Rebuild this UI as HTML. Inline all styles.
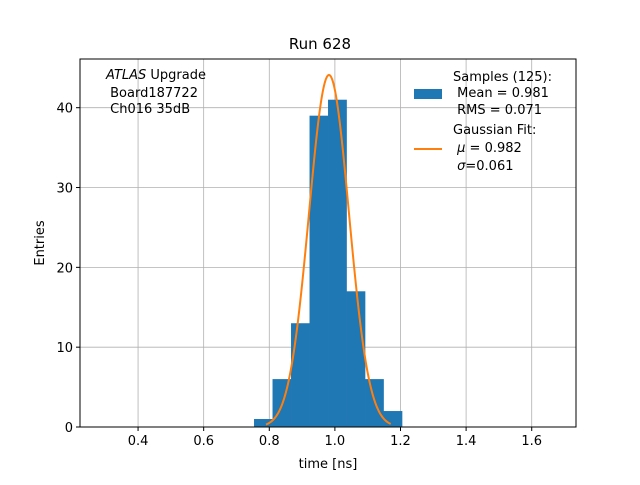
<!DOCTYPE html>
<html><head><meta charset="utf-8"><style>
body{margin:0;background:#fff;}
svg text{font-family:"DejaVu Sans","Liberation Sans",sans-serif;}
</style></head><body>
<svg id="c" width="640" height="480" xmlns="http://www.w3.org/2000/svg">
<rect width="640" height="480" fill="#fff"/>
<g id="grid"></g>
<g id="bars"></g>
<g id="fit"></g>
<rect x="80" y="59" width="496" height="368" fill="none" stroke="#000" stroke-width="1"/>
<g id="ticks" font-size="13"></g>
<text x="320" y="49" font-size="15" text-anchor="middle">Run 628</text>
<text x="328" y="468" font-size="13" text-anchor="middle">time [ns]</text>
<text x="44" y="243" font-size="13" text-anchor="middle" transform="rotate(-90 44 243)">Entries</text>
<g font-size="13">
<text x="106" y="79"><tspan font-style="italic">ATLAS</tspan> Upgrade</text>
<text x="106" y="97">&#160;Board187722</text>
<text x="106" y="113">&#160;Ch016 35dB</text>
</g>
<g font-size="13">
<rect x="414" y="89" width="28" height="10" fill="#1f77b4"/>
<text x="453" y="81">Samples (125):</text>
<text x="453" y="97">&#160;Mean = 0.981</text>
<text x="453" y="114">&#160;RMS = 0.071</text>
<line x1="414" y1="149" x2="442" y2="149" stroke="#ff7f0e" stroke-width="2"/>
<text x="453" y="134">Gaussian Fit:</text>
<text x="453" y="152">&#160;<tspan font-style="italic">μ</tspan> = 0.982</text>
<text x="453" y="170">&#160;<tspan font-style="italic">σ</tspan>=0.061</text>
</g>
</svg>
<script>
const binEdgesStart = 0.7535;
const binWidth = 0.0564;
const counts = [1, 6, 13, 39, 41, 17, 6, 2];
const xTicks = [0.4, 0.6, 0.8, 1.0, 1.2, 1.4, 1.6];
const xTickLabels = ["0.4", "0.6", "0.8", "1.0", "1.2", "1.4", "1.6"];
const yTicks = [0, 10, 20, 30, 40];
const fitMu = [0.982];
const fitSigma = [0.061];
const fitAmp = [44.1];
const fitRange = [0.79, 1.17];

const NS = "http://www.w3.org/2000/svg";
const X0 = 80, X1 = 576, Y0 = 427, Y1 = 59;
const xmin = 0.223, xmax = 1.735, ymin = 0, ymax = 46.1;
const sx = v => X0 + (v - xmin) / (xmax - xmin) * (X1 - X0);
const sy = v => Y0 - (v - ymin) / (ymax - ymin) * (Y0 - Y1);
function mk(tag, attrs, parent) {
  const e = document.createElementNS(NS, tag);
  for (const k in attrs) e.setAttribute(k, attrs[k]);
  parent.appendChild(e); return e;
}
const grid = document.getElementById('grid'), ticks = document.getElementById('ticks');
xTicks.forEach((t, i) => {
  const x = sx(t);
  const g = mk('line', {x1: x, x2: x, y1: Y1, y2: Y0, stroke: '#b0b0b0', 'stroke-width': 0.8}, grid);
  
  
  mk('line', {x1: x, x2: x, y1: Y0, y2: Y0 + 4, stroke: '#000'}, ticks);
  const tx = mk('text', {x: x, y: Y0 + 18, 'text-anchor': 'middle'}, ticks);
  tx.textContent = xTickLabels[i];
  
  
});
yTicks.forEach(t => {
  const y = sy(t);
  const g = mk('line', {x1: X0, x2: X1, y1: y, y2: y, stroke: '#b0b0b0', 'stroke-width': 0.8}, grid);
  
  
  mk('line', {x1: X0 - 4, x2: X0, y1: y, y2: y, stroke: '#000'}, ticks);
  const tx = mk('text', {x: X0 - 7, y: y + 5, 'text-anchor': 'end'}, ticks);
  tx.textContent = String(t);
  
  
});
const bars = document.getElementById('bars');
counts.forEach((c, i) => {
  const a = sx(binEdgesStart + i * binWidth), b = sx(binEdgesStart + (i + 1) * binWidth);
  const r = mk('rect', {x: a, y: sy(c), width: b - a + 0.3, height: sy(0) - sy(c), fill: '#1f77b4'}, bars);
  
  
});
let pts = [];
for (let k = 0; k <= 200; k++) {
  const x = fitRange[0] + (fitRange[1] - fitRange[0]) * k / 200;
  const y = fitAmp[0] * Math.exp(-0.5 * Math.pow((x - fitMu[0]) / fitSigma[0], 2));
  pts.push(sx(x).toFixed(2) + ',' + sy(y).toFixed(2));
}
const pl = mk('polyline', {points: pts.join(' '), fill: 'none', stroke: '#ff7f0e', 'stroke-width': 2}, document.getElementById('fit'));


</script>
</body></html>
